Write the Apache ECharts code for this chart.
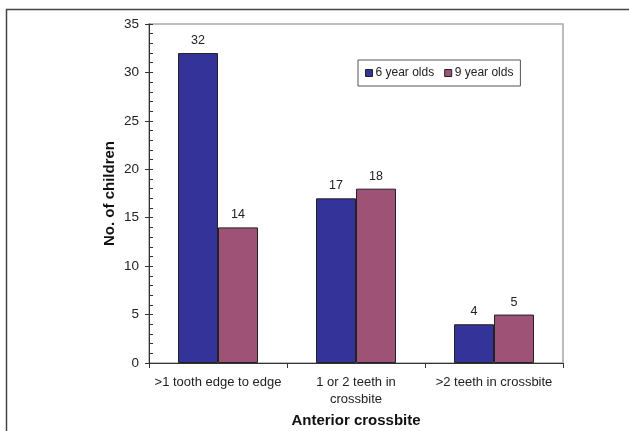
<!DOCTYPE html>
<html><head><meta charset="utf-8">
<script src="https://cdn.jsdelivr.net/npm/echarts@6/dist/echarts.min.js"></script>
<style>html,body{margin:0;padding:0;background:#fff}#c{width:629px;height:431px}</style>
</head><body><div id="c"></div>
<script>
const categories = ['>1 tooth edge to edge', '1 or 2 teeth in\ncrossbite', '>2 teeth in crossbite'];
const seriesNames = ['6 year olds', '9 year olds'];
const sixYear = [32, 17, 4];
const nineYear = [14, 18, 5];
const yMin = 0, yMax = 35, yStep = 5;

const font = 'Liberation Sans, Arial, sans-serif';
const chart = echarts.init(document.getElementById('c'), null, {renderer: 'canvas'});
chart.setOption({
  animation: false,
  textStyle: {fontFamily: font},
  graphic: [{type: 'rect', shape: {x: 6.5, y: 9.5, width: 660, height: 460}, style: {fill: 'none', stroke: '#444', lineWidth: 1.5}, z: -10}],
  grid: {left: 149, top: 24, right: 66, bottom: 68, outerBoundsMode: 'none', containLabel: false, show: true, borderColor: '#a8a8a8', borderWidth: 1.5},
  legend: {
    left: 358, top: 60, orient: 'horizontal',
    borderColor: '#555', borderWidth: 1, padding: [7, 7],
    itemWidth: 7, itemHeight: 7, itemGap: 10,
    icon: 'rect',
    textStyle: {fontSize: 12, color: '#222', fontFamily: font, padding: [0, 0, 0, -2]},
    itemStyle: {borderColor: '#222', borderWidth: 1},
    data: seriesNames
  },
  xAxis: {
    type: 'category', data: categories,
    name: 'Anterior crossbite', nameLocation: 'middle', nameGap: 50, nameMoveOverlap: false,
    nameTextStyle: {fontSize: 15, fontWeight: 'bold', color: '#111', fontFamily: font},
    axisLine: {lineStyle: {color: '#333', width: 1}},
    axisTick: {show: true, length: 5, lineStyle: {color: '#333'}},
    axisLabel: {interval: 0, hideOverlap: false, fontSize: 13, color: '#222', margin: 11, lineHeight: 17, fontFamily: font}
  },
  yAxis: [{
    type: 'value', min: yMin, max: yMax, interval: yStep,
    name: 'No. of children', nameLocation: 'middle', nameGap: 32, nameMoveOverlap: false,
    nameTextStyle: {fontSize: 15, fontWeight: 'bold', color: '#111', fontFamily: font},
    splitLine: {show: false},
    axisLine: {show: true, lineStyle: {color: '#333', width: 1}},
    axisTick: {show: true, length: 4, lineStyle: {color: '#333'}},
    axisLabel: {fontSize: 13.5, color: '#222', margin: 10, fontFamily: font}
  }, {
    type: 'value', min: yMin, max: yMax, interval: yStep, position: 'left',
    splitLine: {show: false}, axisLine: {show: false}, axisLabel: {show: false},
    axisTick: {show: true, inside: true, length: 4, lineStyle: {color: '#333'}},
    minorTick: {show: true, splitNumber: 5, length: 4, lineStyle: {color: '#333'}}
  }],
  series: [{
    name: seriesNames[0], type: 'bar', data: sixYear, barWidth: 40, barGap: '0%',
    itemStyle: {color: '#333399', borderColor: '#222', borderWidth: 1},
    label: {show: true, position: 'top', distance: 6, fontSize: 12.5, color: '#222', fontFamily: font}
  }, {
    name: seriesNames[1], type: 'bar', data: nineYear, barWidth: 40,
    itemStyle: {color: '#9E5276', borderColor: '#222', borderWidth: 1},
    label: {show: true, position: 'top', distance: 6, fontSize: 12.5, color: '#222', fontFamily: font}
  }]
});
</script></body></html>
